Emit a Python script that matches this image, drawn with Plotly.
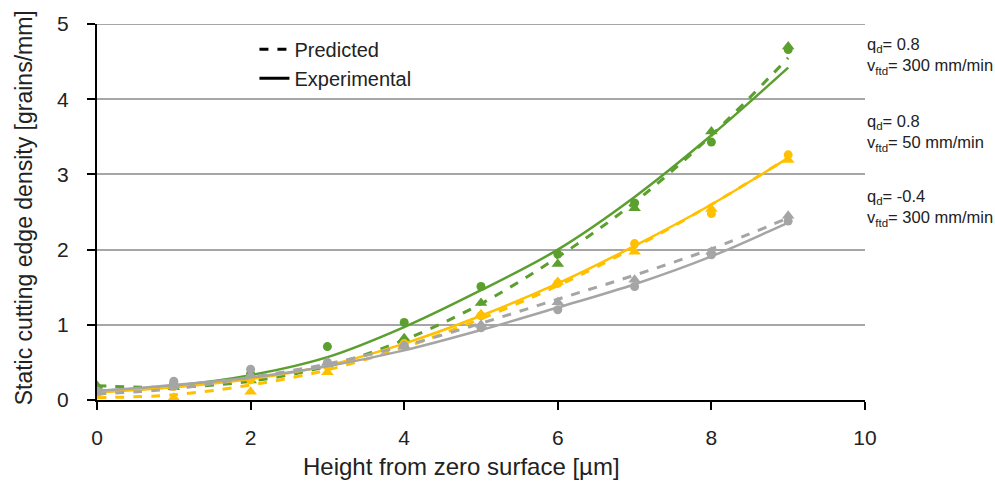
import plotly.graph_objects as go

# ---- data ----
x_pts = [0, 1, 2, 3, 4, 5, 6, 7, 8, 9]

# q_d = 0.8, v_ftd = 300 mm/min (green)
green_exp = [0.15, 0.22, 0.35, 0.71, 1.03, 1.51, 1.94, 2.62, 3.43, 4.66]
green_pred = [0.19, 0.17, 0.26, 0.47, 0.82, 1.29, 1.81, 2.55, 3.57, 4.70]
green_exp_fit = [0.12, 0.19, 0.33, 0.57, 0.97, 1.46, 2.00, 2.70, 3.52, 4.42]
green_pred_fit = [0.19, 0.17, 0.25, 0.45, 0.80, 1.28, 1.90, 2.63, 3.52, 4.55]

# q_d = 0.8, v_ftd = 50 mm/min (yellow)
yellow_exp = [0.10, 0.18, 0.27, 0.45, 0.75, 1.12, 1.55, 2.08, 2.48, 3.26]
yellow_pred = [0.05, 0.03, 0.11, 0.37, 0.72, 1.14, 1.57, 1.97, 2.54, 3.19]
yellow_exp_fit = [0.10, 0.17, 0.28, 0.46, 0.75, 1.12, 1.55, 2.05, 2.60, 3.22]
yellow_pred_fit = [0.03, 0.07, 0.20, 0.40, 0.70, 1.08, 1.52, 2.03, 2.60, 3.22]

# q_d = -0.4, v_ftd = 300 mm/min (gray)
gray_exp = [0.12, 0.25, 0.41, 0.50, 0.72, 0.96, 1.20, 1.51, 1.93, 2.38]
gray_pred = [0.10, 0.20, 0.33, 0.50, 0.72, 1.00, 1.30, 1.60, 1.97, 2.45]
gray_exp_fit = [0.12, 0.20, 0.30, 0.45, 0.66, 0.93, 1.23, 1.54, 1.91, 2.36]
gray_pred_fit = [0.08, 0.15, 0.30, 0.48, 0.72, 1.02, 1.34, 1.66, 2.01, 2.42]

x_ticks = [0, 2, 4, 6, 8, 10]
y_ticks = [0, 1, 2, 3, 4, 5]

series = [
    ("#5B9F2F", green_exp, green_pred, green_exp_fit, green_pred_fit),
    ("#FFC000", yellow_exp, yellow_pred, yellow_exp_fit, yellow_pred_fit),
    ("#A5A5A5", gray_exp, gray_pred, gray_exp_fit, gray_pred_fit),
]

labels = [
    ("q<sub>d</sub>= 0.8", "v<sub>ftd</sub>= 300 mm/min", 4.58),
    ("q<sub>d</sub>= 0.8", "v<sub>ftd</sub>= 50 mm/min", 3.55),
    ("q<sub>d</sub>= -0.4", "v<sub>ftd</sub>= 300 mm/min", 2.55),
]

FONT = "Liberation Sans, Arial, sans-serif"
TXT = "#222222"

fig = go.Figure()

for color, exp, pred, efit, pfit in series:
    fig.add_trace(go.Scatter(x=x_pts, y=efit, mode="lines",
                             line=dict(color=color, width=2.5, shape="spline"),
                             showlegend=False, hoverinfo="skip"))
    fig.add_trace(go.Scatter(x=x_pts, y=pfit, mode="lines",
                             line=dict(color=color, width=3, dash="dash", shape="spline"),
                             showlegend=False, hoverinfo="skip"))
    fig.add_trace(go.Scatter(x=x_pts, y=exp, mode="markers",
                             marker=dict(color=color, size=9, symbol="circle"),
                             showlegend=False))
    fig.add_trace(go.Scatter(x=x_pts, y=pred, mode="markers",
                             marker=dict(color=color, size=11, symbol="triangle-up"),
                             showlegend=False))

# legend entries
fig.add_trace(go.Scatter(x=[None], y=[None], mode="lines", name="Predicted",
                         line=dict(color="black", width=3, dash="dash")))
fig.add_trace(go.Scatter(x=[None], y=[None], mode="lines", name="Experimental",
                         line=dict(color="black", width=3)))

for q, v, yv in labels:
    fig.add_annotation(x=1.0, xref="paper", y=yv, yref="y", text=q + "<br>" + v,
                       showarrow=False, xanchor="left", yanchor="middle", align="left",
                       xshift=0, font=dict(family=FONT, size=16.5, color=TXT))

# axis titles
fig.add_annotation(x=0.474, xref="paper", y=-0.178, yref="paper",
                   text="Height from zero surface [µm]", showarrow=False,
                   xanchor="center", yanchor="middle",
                   font=dict(family=FONT, size=24, color=TXT))
fig.add_annotation(x=-0.094, xref="paper", y=0.512, yref="paper", textangle=-90,
                   text="Static cutting edge density [grains/mm]", showarrow=False,
                   xanchor="center", yanchor="middle",
                   font=dict(family=FONT, size=23, color=TXT))

# top gridline at y = 5
fig.add_shape(type="line", xref="paper", x0=0, x1=1, yref="y", y0=y_ticks[-1], y1=y_ticks[-1],
              line=dict(color="#A6A6A6", width=2), layer="below")

fig.update_layout(
    width=995, height=489,
    margin=dict(l=97, r=130, t=19, b=89),
    paper_bgcolor="white", plot_bgcolor="white",
    font=dict(family=FONT, size=21, color=TXT),
    legend=dict(x=0.205, y=0.985, xanchor="left", yanchor="top",
                bgcolor="rgba(0,0,0,0)", font=dict(size=20),
                tracegroupgap=0),
    xaxis=dict(range=[0, 10], tickvals=x_ticks, showgrid=False,
               showline=True, linecolor="black", linewidth=2,
               ticks="outside", ticklen=8, tickwidth=2, tickcolor="black",
               ticklabelstandoff=10, zeroline=False),
    yaxis=dict(range=[0, 5], tickvals=y_ticks, showgrid=True,
               gridcolor="#A6A6A6", gridwidth=2,
               showline=True, linecolor="black", linewidth=2,
               ticks="outside", ticklen=8, tickwidth=2, tickcolor="black",
               ticklabelstandoff=14, zeroline=False),
)

fig.write_html("out.html")
